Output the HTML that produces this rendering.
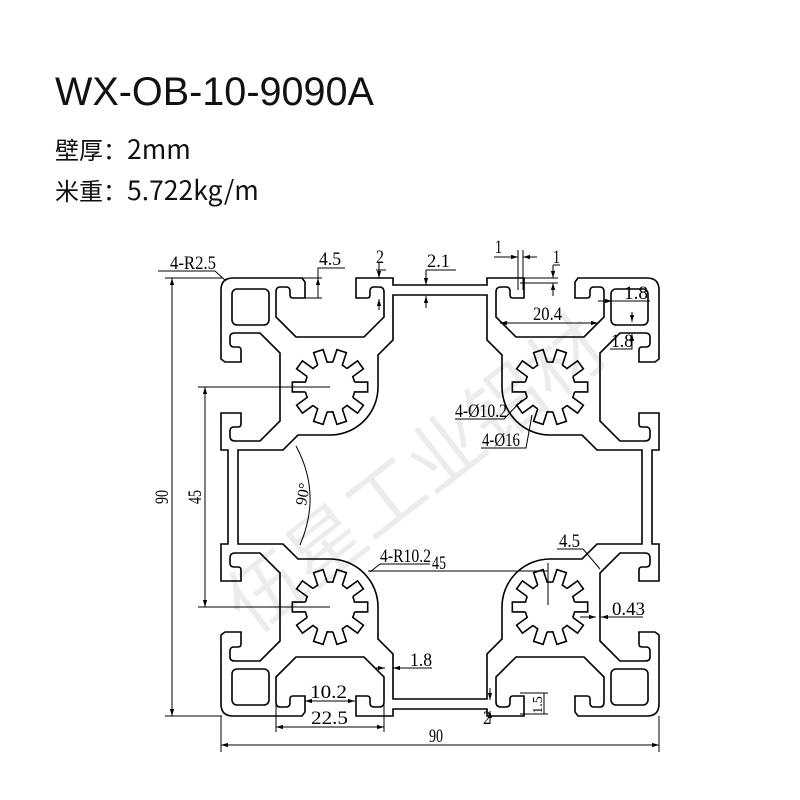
<!DOCTYPE html>
<html><head><meta charset="utf-8"><style>
html,body{margin:0;padding:0;background:#fff;}
body{width:800px;height:800px;overflow:hidden;position:relative;font-family:"Liberation Sans","Noto Sans CJK SC",sans-serif;}
.t{position:absolute;left:55px;color:#111;white-space:nowrap;}
.s{font-family:"Noto Sans CJK SC",sans-serif;font-size:24px;line-height:34px;}
.l{font-size:26.5px;}
</style></head><body>
<div class="t" style="top:70px;font-size:39.6px;">WX-OB-10-9090A</div>
<div class="t s" style="top:131px;">壁厚：<span class="l">2mm</span></div>
<div class="t s" style="top:172px;">米重：<span class="l">5.722kg/m</span></div>
<svg width="800" height="800" style="position:absolute;left:0;top:0" xmlns="http://www.w3.org/2000/svg">
<defs>
<marker id="ar" viewBox="0 0 10 10" refX="10" refY="5" markerWidth="7" markerHeight="7" orient="auto-start-reverse"><path d="M0,2 L10,5 L0,8 z" fill="#000"/></marker>
<path id="tooth" d="M24.5,-4.98 L37.68,-4.96 L37.68,4.96 L24.5,4.98 A25,25 0 0 1 22.75,10.37"/>
<g id="star">
<use href="#tooth"/><use href="#tooth" transform="rotate(36)"/><use href="#tooth" transform="rotate(72)"/><use href="#tooth" transform="rotate(108)"/><use href="#tooth" transform="rotate(144)"/><use href="#tooth" transform="rotate(180)"/><use href="#tooth" transform="rotate(216)"/><use href="#tooth" transform="rotate(252)"/><use href="#tooth" transform="rotate(288)"/><use href="#tooth" transform="rotate(324)"/>
</g>
<path id="A" d="M-207,-219 L-138,-219 L-135,-215 L-135,-199 L-147,-199 Q-150,-199 -150,-202 L-150,-206 Q-150,-210 -154,-210 L-160,-210 Q-164,-210 -164,-205 L-164,-180 L-144,-160 L-76,-160 L-56,-180 L-56,-205 Q-56,-210 -61,-210 L-66,-210 Q-70,-210 -70,-206 L-70,-202 Q-70,-199 -73,-199 L-84,-199 L-84,-219 L-47,-219 L-47,-212 L0,-212"/>
<g id="Q">
<path d="M-219,-207 Q-219,-219 -207,-219"/>
<use href="#A"/>
<use href="#A" transform="matrix(0,1,1,0,0,0)"/>
<path d="M0,-202 L-47,-202 L-47,-157 L-62,-142 L-62,-110 A48,48 0 0 1 -110,-62 L-142,-62 L-157,-47 L-202,-47 L-202,0"/>
<rect x="-208" y="-208" width="37" height="36" rx="5"/>
<use href="#star" transform="translate(-110,-110)"/>
</g>
</defs>
<text x="420" y="500" font-size="76" fill="#000" opacity="0.07" text-anchor="middle" transform="rotate(-38 420 480)" font-family="Noto Sans CJK SC,sans-serif">伍星工业铝材</text>
<g transform="translate(440,497)" fill="none" stroke="#000" stroke-width="1.6">
<use href="#Q"/>
<use href="#Q" transform="scale(-1,1)"/>
<use href="#Q" transform="scale(1,-1)"/>
<use href="#Q" transform="scale(-1,-1)"/>
</g>
<g stroke="#000" stroke-width="1" fill="none">
<line x1="165" y1="278" x2="222" y2="278"/><line x1="165" y1="716" x2="222" y2="716"/>
<line x1="172" y1="278" x2="172" y2="716" marker-start="url(#ar)" marker-end="url(#ar)"/>
<line x1="198" y1="387" x2="330" y2="387"/><line x1="198" y1="607" x2="330" y2="607"/>
<line x1="205" y1="387" x2="205" y2="607" marker-start="url(#ar)" marker-end="url(#ar)"/>
<path d="M296,446 Q322,494 300,545"/>
<polyline points="158,271 215,271 226,281"/>
<line x1="300" y1="298" x2="322" y2="298"/><line x1="300" y1="278" x2="322" y2="278"/>
<polyline points="345,268 318,268 318,298"/>
<line x1="318" y1="284" x2="318" y2="278" marker-end="url(#ar)"/>
<line x1="379" y1="262" x2="379" y2="278" marker-end="url(#ar)"/>
<line x1="379" y1="310" x2="379" y2="299" marker-end="url(#ar)"/>
<line x1="376" y1="270" x2="386" y2="270"/>
<polyline points="456,270 426,270 426,285" /><line x1="426" y1="272" x2="426" y2="285" marker-end="url(#ar)"/>
<line x1="426" y1="308" x2="426" y2="296" marker-end="url(#ar)"/>
<line x1="518" y1="250" x2="518" y2="290"/><line x1="523" y1="250" x2="523" y2="290"/>
<line x1="494" y1="257" x2="518" y2="257" marker-end="url(#ar)"/><line x1="537" y1="257" x2="523" y2="257" marker-end="url(#ar)"/>
<line x1="520" y1="278" x2="558" y2="278"/><line x1="520" y1="283" x2="558" y2="283"/>
<line x1="553" y1="265" x2="553" y2="278" marker-end="url(#ar)"/><line x1="553" y1="296" x2="553" y2="283" marker-end="url(#ar)"/>
<line x1="553" y1="265" x2="560" y2="265"/>
<line x1="500" y1="323" x2="598" y2="323" marker-start="url(#ar)" marker-end="url(#ar)"/>
<line x1="598" y1="301" x2="612" y2="301" marker-end="url(#ar)"/><line x1="612" y1="301" x2="650" y2="301"/>
<line x1="632" y1="312" x2="632" y2="322" marker-end="url(#ar)"/><line x1="632" y1="345" x2="632" y2="334" marker-end="url(#ar)"/>
<polyline points="610,349 632,349 632,334"/>
<polyline points="455,419 504,419 522,400"/>
<polyline points="481,448 526,448 532,415"/>
<line x1="368" y1="571" x2="548" y2="571"/><line x1="548" y1="563" x2="548" y2="605"/>
<line x1="380" y1="564" x2="430" y2="564"/><line x1="380" y1="564" x2="370" y2="572"/>
<polyline points="557,549 583,549 600,569"/>
<line x1="580" y1="617" x2="596" y2="617" marker-end="url(#ar)"/><line x1="615" y1="617" x2="601" y2="617" marker-end="url(#ar)"/>
<line x1="601" y1="617" x2="643" y2="617"/>
<line x1="375" y1="668" x2="385" y2="668" marker-end="url(#ar)"/><line x1="432" y1="668" x2="393" y2="668" marker-end="url(#ar)"/>
<line x1="305" y1="701" x2="355" y2="701" marker-start="url(#ar)" marker-end="url(#ar)"/>
<line x1="276" y1="700" x2="276" y2="732"/><line x1="384" y1="700" x2="384" y2="732"/>
<line x1="276" y1="727" x2="384" y2="727" marker-start="url(#ar)" marker-end="url(#ar)"/>
<line x1="221" y1="716" x2="221" y2="752"/><line x1="659" y1="716" x2="659" y2="752"/>
<line x1="221" y1="745" x2="659" y2="745" marker-start="url(#ar)" marker-end="url(#ar)"/>
<line x1="490" y1="688" x2="490" y2="700" marker-end="url(#ar)"/><line x1="490" y1="724" x2="490" y2="711" marker-end="url(#ar)"/>
<line x1="520" y1="693" x2="548" y2="693"/><line x1="520" y1="714" x2="548" y2="714"/>
<line x1="544" y1="693" x2="544" y2="714"/>
</g>
<g font-family="Liberation Serif,serif" font-size="19" fill="#000">
<text x="170" y="269" textLength="46" lengthAdjust="spacingAndGlyphs">4-R2.5</text>
<text x="319" y="265" textLength="22" lengthAdjust="spacingAndGlyphs">4.5</text>
<text x="376" y="263" textLength="8" lengthAdjust="spacingAndGlyphs">2</text>
<text x="427" y="267" textLength="23" lengthAdjust="spacingAndGlyphs">2.1</text>
<text x="495" y="253" textLength="7" lengthAdjust="spacingAndGlyphs">1</text>
<text x="553" y="263" textLength="7" lengthAdjust="spacingAndGlyphs">1</text>
<text x="533" y="320" textLength="29" lengthAdjust="spacingAndGlyphs">20.4</text>
<text x="624" y="299" textLength="24" lengthAdjust="spacingAndGlyphs">1.8</text>
<text x="611" y="347" textLength="22" lengthAdjust="spacingAndGlyphs">1.8</text>
<text x="455" y="417" textLength="52" lengthAdjust="spacingAndGlyphs">4-Ø10.2</text>
<text x="482" y="446" textLength="38" lengthAdjust="spacingAndGlyphs">4-Ø16</text>
<text x="380" y="562" textLength="51" lengthAdjust="spacingAndGlyphs">4-R10.2</text>
<text x="432" y="569" textLength="14" lengthAdjust="spacingAndGlyphs">45</text>
<text x="559" y="547" textLength="21" lengthAdjust="spacingAndGlyphs">4.5</text>
<text x="612" y="615" textLength="33" lengthAdjust="spacingAndGlyphs">0.43</text>
<text x="410" y="666" textLength="22" lengthAdjust="spacingAndGlyphs">1.8</text>
<text x="310" y="698" textLength="37" lengthAdjust="spacingAndGlyphs">10.2</text>
<text x="311" y="724" textLength="37" lengthAdjust="spacingAndGlyphs">22.5</text>
<text x="429" y="742" textLength="14" lengthAdjust="spacingAndGlyphs">90</text>
<text x="483" y="724" textLength="8" lengthAdjust="spacingAndGlyphs">2</text>
<text transform="translate(168,497) rotate(-90)" text-anchor="middle" textLength="14" lengthAdjust="spacingAndGlyphs">90</text>
<text transform="translate(201,497) rotate(-90)" text-anchor="middle" textLength="14" lengthAdjust="spacingAndGlyphs">45</text>
<text transform="translate(308,495) rotate(-80)" text-anchor="middle" font-size="16">90°</text>
<text transform="translate(542,705) rotate(-90)" text-anchor="middle" font-size="14">1.5</text>
</g>
</svg>
</body></html>
